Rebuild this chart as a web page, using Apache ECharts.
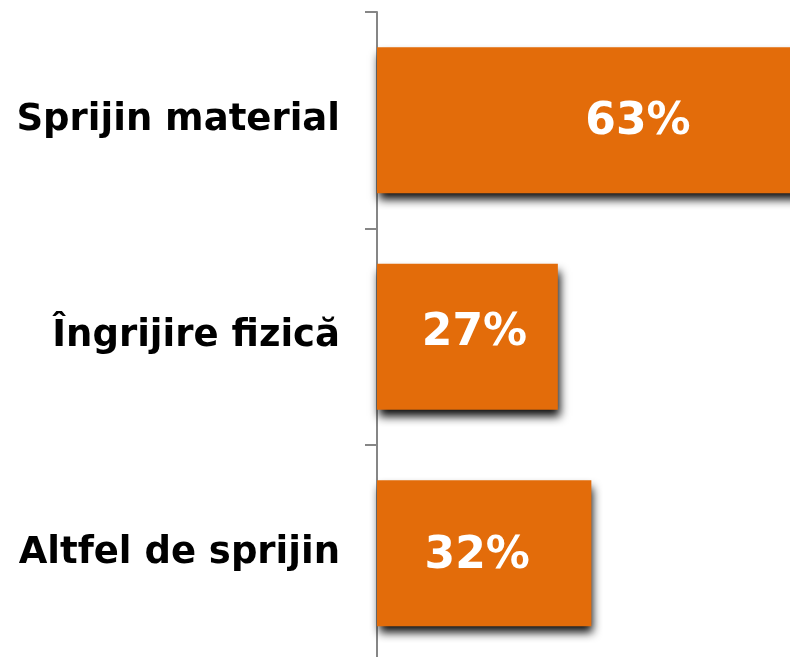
<!DOCTYPE html>
<html>
<head>
<meta charset="utf-8">
<script src="https://cdn.jsdelivr.net/npm/echarts@6/dist/echarts.min.js"></script>
<style>
html,body{margin:0;padding:0;background:#fff;}
#chart{width:790px;height:657px;}
</style>
</head>
<body>
<div id="chart"></div>
<script>
const categories = ['Sprijin material', 'Îngrijire fizică', 'Altfel de sprijin'];
const values = [63, 27, 32];

const labelShift = [[50, 2.5], [7, -3.5], [-7, 3]];

const chart = echarts.init(document.getElementById('chart'), null, {renderer: 'canvas'});
chart.setOption({
  animation: false,
  grid: {left: 377, top: 12, width: 422, height: 649.5, containLabel: false, outerBoundsMode: 'none'},
  xAxis: {
    type: 'value', min: 0, max: 63, show: false
  },
  yAxis: {
    type: 'category',
    data: categories,
    inverse: true,
    axisLine: {show: true, lineStyle: {color: '#868686', width: 2}},
    axisTick: {show: true, length: 12, lineStyle: {color: '#868686', width: 2}},
    axisLabel: {
      margin: 37,
      color: '#000',
      fontFamily: 'DejaVu Sans',
      fontWeight: 'bold',
      fontSize: 37
    },
    splitLine: {show: false}
  },
  series: [{
    type: 'bar',
    barWidth: 146,
    clip: true,
    data: values.map((v, i) => ({
      value: v,
      label: {offset: labelShift[i]}
    })),
    itemStyle: {
      color: '#E36C0A',
      shadowColor: 'rgba(0,0,0,0.95)',
      shadowBlur: 9,
      shadowOffsetX: 2,
      shadowOffsetY: 7
    },
    label: {
      show: true,
      position: 'inside',
      formatter: '{c}%',
      color: '#fff',
      fontFamily: 'DejaVu Sans',
      fontWeight: 'bold',
      fontSize: 44
    }
  }]
});
</script>
</body>
</html>
